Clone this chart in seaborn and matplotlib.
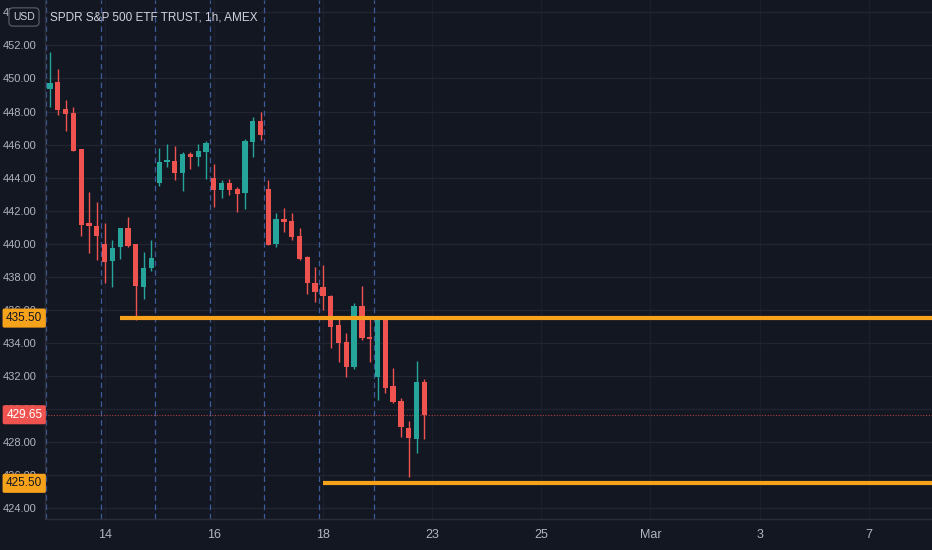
import numpy as np
import matplotlib
matplotlib.use("Agg")
import matplotlib.pyplot as plt
import matplotlib.transforms as mtransforms
from matplotlib import font_manager
import seaborn as sns

# ---------------- data: SPY 1h candles ----------------
# bar index 0 = first hourly bar of Feb 11, 7 bars per session
bar_index = list(range(-1, 49))
opens = [449.90, 449.35, 449.81, 448.16, 447.93, 445.72, 441.27, 441.07,
         439.98, 438.97, 439.78, 440.93, 439.98, 437.40, 438.51,
         443.66, 444.95, 445.01, 444.30, 445.43, 445.27, 445.57,
         443.96, 443.25, 443.70, 443.31, 443.05, 446.18, 447.45,
         443.31, 439.98, 441.48, 441.39, 440.47, 439.18, 437.64,
         437.36, 436.84, 435.08, 434.07, 432.52, 436.23, 434.37,
         431.92, 435.43, 431.39, 430.48, 428.86, 428.16, 431.65]
highs = [450.00, 451.62, 450.56, 448.70, 448.30, 445.75, 443.15, 442.55,
         441.27, 440.23, 440.95, 441.60, 440.00, 439.52, 440.23,
         445.81, 446.02, 445.93, 445.55, 445.57, 446.02, 446.24,
         444.83, 443.86, 443.92, 443.42, 446.32, 447.69, 447.99,
         443.86, 441.88, 442.14, 441.88, 440.93, 439.25, 438.57,
         438.71, 436.90, 435.49, 434.62, 436.39, 437.44, 435.58,
         435.50, 435.55, 432.46, 430.68, 429.27, 432.92, 431.79]
lows = [449.30, 448.30, 447.79, 446.84, 445.60, 440.47, 439.42, 439.02,
        437.64, 437.40, 439.06, 439.78, 435.38, 436.64, 438.37,
        443.50, 444.66, 443.86, 443.21, 444.51, 444.71, 443.90,
        442.24, 442.75, 442.95, 441.94, 442.08, 445.27, 446.28,
        439.90, 439.82, 440.73, 440.23, 439.00, 436.96, 436.49,
        435.99, 433.67, 432.86, 431.92, 432.40, 434.20, 432.86,
        430.54, 430.95, 430.34, 428.28, 425.90, 427.31, 428.16]
closes = [449.40, 449.71, 448.10, 447.85, 445.63, 441.13, 441.07, 440.47,
          438.91, 439.72, 440.93, 439.88, 437.44, 438.51, 439.12,
          444.97, 445.05, 444.30, 445.41, 445.27, 445.61, 446.08,
          443.25, 443.70, 443.25, 442.99, 446.22, 447.45, 446.58,
          439.93, 441.48, 441.33, 440.39, 439.06, 437.64, 437.10,
          436.84, 434.98, 434.01, 432.52, 436.23, 434.28, 434.23,
          435.43, 431.25, 430.44, 428.89, 428.22, 431.65, 429.65]

session_starts = [0, 7, 14, 21, 28, 35, 42]
day_ticks = [7, 21, 35, 49, 63, 77, 91, 105]
day_labels = ["14", "16", "18", "23", "25", "Mar", "3", "7"]
y_ticks = list(range(424, 456, 2))

levels = [435.50, 425.50]
level_start = [9, 35]
last_price = 429.65

# ---------------- style ----------------
bg = "#131722"
grid_c = "#222531"
text_c = "#b2b5be"
up_c = "#26a69a"
down_c = "#ef5350"
orange = "#f7a21b"

sns.set_theme(style="dark", rc={"axes.facecolor": bg, "figure.facecolor": bg})
installed = {f.name for f in font_manager.fontManager.ttflist}
if "Liberation Sans Narrow" in installed:
    plt.rcParams["font.family"] = ["Liberation Sans Narrow", "DejaVu Sans"]
    fs = 9.5
else:
    plt.rcParams["font.family"] = ["Liberation Sans", "DejaVu Sans"]
    fs = 8

fig = plt.figure(figsize=(9.32, 5.5), dpi=100)
ax = fig.add_axes([45 / 932, 31 / 550, 887 / 932, 519 / 550])

x = np.array(bar_index, dtype=float)
o = np.array(opens)
c = np.array(closes)
colors = [up_c if cc >= oo else down_c for oo, cc in zip(o, c)]
body_h = np.maximum(np.abs(c - o), 0.06)

# wicks and bodies
ax.vlines(x, lows, highs, color=colors, linewidth=1, zorder=3)
ax.bar(x, body_h, bottom=np.minimum(o, c), width=0.68, color=colors,
       linewidth=0, zorder=4)

# session separators
for s in session_starts:
    ax.axvline(s - 0.5, color="#4262a8", linewidth=0.9, linestyle=(0, (4.5, 3)),
               alpha=0.9, zorder=2)

ax.set_xlim(-0.64, 113.1)
ax.set_ylim(423.34, 454.75)

# horizontal levels
xr = ax.get_xlim()[1]
for lv, st in zip(levels, level_start):
    ax.hlines(lv, st, xr, color=orange, linewidth=3, zorder=5)

# last price line
ax.axhline(last_price, color=down_c, linewidth=0.8, linestyle=(0, (1, 1.5)),
           alpha=0.7, zorder=2)

# axes / grid
ax.set_yticks(y_ticks)
ax.set_yticklabels([f"{v:.2f}" for v in y_ticks])
ax.set_xticks(day_ticks)
ax.set_xticklabels(day_labels)
ax.grid(True, axis="y", color=grid_c, linewidth=1)
ax.grid(True, axis="x", color="#1c1f2b", linewidth=1)
ax.tick_params(axis="both", length=0, colors=text_c, labelsize=fs)
ax.tick_params(axis="x", labelsize=fs + 1, pad=7)
ax.tick_params(axis="y", pad=6)
for side in ["top", "right"]:
    ax.spines[side].set_visible(False)
for side in ["left", "bottom"]:
    ax.spines[side].set_color("#2a2e39")
    ax.spines[side].set_linewidth(1)

# price tags on the axis
trans = mtransforms.blended_transform_factory(ax.transAxes, ax.transData)
for lv in levels:
    ax.text(-0.003, lv, f"{lv:.2f}", transform=trans, ha="right", va="center",
            fontsize=fs + 0.5, color="#131722", clip_on=False, zorder=10,
            bbox=dict(boxstyle="round,pad=0.3,rounding_size=0.15", fc=orange, ec="none"))
ax.text(-0.003, last_price, f"{last_price:.2f}", transform=trans, ha="right",
        va="center", fontsize=fs + 0.5, color="white", clip_on=False, zorder=10,
        bbox=dict(boxstyle="round,pad=0.3,rounding_size=0.15", fc=down_c, ec="none"))

# title and currency box
ax.text(0.0056, 0.967, "SPDR S&P 500 ETF TRUST, 1h, AMEX", transform=ax.transAxes,
        ha="left", va="center", fontsize=fs + 0.5, color="#d1d4dc", zorder=10)
fig.text(24 / 932, 1 - 17 / 550, "USD", ha="center", va="center", fontsize=fs - 0.5,
         color="#d1d4dc", zorder=10,
         bbox=dict(boxstyle="round,pad=0.4,rounding_size=0.4", fc=bg, ec="#50535e", lw=1))

fig.savefig("out.png", dpi=100, facecolor=bg)
